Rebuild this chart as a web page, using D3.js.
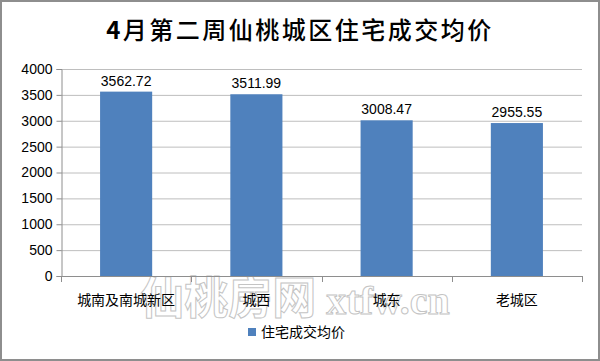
<!DOCTYPE html>
<html>
<head>
<meta charset="utf-8">
<script src="https://cdn.jsdelivr.net/npm/d3@7/dist/d3.min.js"></script>
<style>
  body { margin: 0; background: #fff; }
  svg { display: block; }
  text { font-family: "Liberation Sans", Arial, "Noto Sans CJK SC", sans-serif; }
</style>
</head>
<body>
<svg width="600" height="361"></svg>
<script>
let categories = ["城南及南城新区", "城西", "城东", "老城区"];
let prices = [3562.72, 3511.99, 3008.47, 2955.55];
let yTicks = [0, 500, 1000, 1500, 2000, 2500, 3000, 3500, 4000];
let seriesName = "住宅成交均价";
let titleNum = "4";
let titleRest = "月第二周仙桃城区住宅成交均价";

let svg = d3.select("svg");
let W = 600, H = 361;
let margin = {left: 61, right: 18, top: 69, bottom: 85};

// outer frame
svg.append("rect")
  .attr("x", 1).attr("y", 1)
  .attr("width", W - 2).attr("height", H - 2)
  .attr("fill", "#fff")
  .attr("stroke", "#8e8e8e")
  .attr("stroke-width", 2);

let x = d3.scaleBand()
  .domain(categories)
  .range([margin.left, W - margin.right])
  .paddingInner(0.6)
  .paddingOuter(0.3);

let y = d3.scaleLinear()
  .domain([0, 4000])
  .range([H - margin.bottom, margin.top]);

// watermark (behind everything)
let wm = svg.append("text")
  .attr("x", 295).attr("y", 314)
  .attr("text-anchor", "middle")
  .attr("fill", "#fff")
  .attr("stroke", "#c4c4c4")
  .attr("stroke-width", 1);
wm.append("tspan")
  .style("font-family", "'Noto Sans CJK SC', sans-serif")
  .style("font-size", "44px")
  .style("font-weight", "bold")
  .text("仙桃房网");
wm.append("tspan")
  .style("font-family", "'Liberation Serif', serif")
  .style("font-size", "40px")
  .style("font-weight", "bold")
  .text(" xtfw.cn");

// gridlines
svg.append("g")
  .selectAll("line")
  .data(yTicks.slice(1))
  .enter().append("line")
  .attr("x1", margin.left).attr("x2", W - margin.right)
  .attr("y1", d => y(d) + 0.5).attr("y2", d => y(d) + 0.5)
  .attr("stroke", "#bebebe");

// y axis
let yAxis = svg.append("g")
  .attr("transform", `translate(${margin.left + 0.5},0)`)
  .call(d3.axisLeft(y).tickValues(yTicks).tickFormat(d3.format("d")).tickSize(5).tickPadding(4));
yAxis.select(".domain").attr("stroke", "#8e8e8e");
yAxis.selectAll(".tick line").attr("stroke", "#8e8e8e");
yAxis.selectAll(".tick text")
  .attr("fill", "#000")
  .style("font-size", "14px");

// bars
svg.append("g")
  .selectAll("rect")
  .data(prices)
  .enter().append("rect")
  .attr("x", (d, i) => x(categories[i]))
  .attr("y", d => y(d))
  .attr("width", x.bandwidth())
  .attr("height", d => y(0) - y(d))
  .attr("fill", "#4f81bd");

// value labels
svg.append("g")
  .selectAll("text")
  .data(prices)
  .enter().append("text")
  .attr("x", (d, i) => x(categories[i]) + x.bandwidth() / 2)
  .attr("y", d => y(d) - 6)
  .attr("text-anchor", "middle")
  .style("font-size", "14px")
  .attr("fill", "#000")
  .text(d => d.toFixed(2));

// x axis with boundary ticks
let bounds = d3.range(categories.length + 1).map(i => margin.left + i * (W - margin.left - margin.right) / categories.length);
let xg = svg.append("g");
xg.append("line")
  .attr("x1", margin.left).attr("x2", W - margin.right)
  .attr("y1", y(0) + 0.5).attr("y2", y(0) + 0.5)
  .attr("stroke", "#8e8e8e");
xg.selectAll(".bt")
  .data(bounds)
  .enter().append("line")
  .attr("x1", d => Math.round(d) + 0.5).attr("x2", d => Math.round(d) + 0.5)
  .attr("y1", y(0)).attr("y2", y(0) + 6)
  .attr("stroke", "#8e8e8e");
xg.selectAll("text")
  .data(categories)
  .enter().append("text")
  .attr("x", d => x(d) + x.bandwidth() / 2)
  .attr("y", y(0) + 29)
  .attr("text-anchor", "middle")
  .style("font-family", "'Noto Sans CJK SC', sans-serif")
  .style("font-size", "14px")
  .attr("fill", "#000")
  .text(d => d);

// title
let t = svg.append("text")
  .attr("x", W / 2)
  .attr("y", 39)
  .attr("text-anchor", "middle")
  .style("font-family", "'Noto Sans CJK SC', sans-serif")
  .style("font-size", "24px")
  .style("letter-spacing", "2.5px")
  .attr("fill", "#000");
t.append("tspan").style("font-weight", "bold").text(titleNum);
t.append("tspan").style("font-weight", "500").text(titleRest);

// legend
let lg = svg.append("g").attr("transform", "translate(248,327)");
lg.append("rect")
  .attr("width", 8).attr("height", 8)
  .attr("y", 1)
  .attr("fill", "#4f81bd");
lg.append("text")
  .attr("x", 13).attr("y", 10)
  .style("font-family", "'Noto Sans CJK SC', sans-serif")
  .style("font-size", "14px")
  .attr("fill", "#000")
  .text(seriesName);
</script>
</body>
</html>
